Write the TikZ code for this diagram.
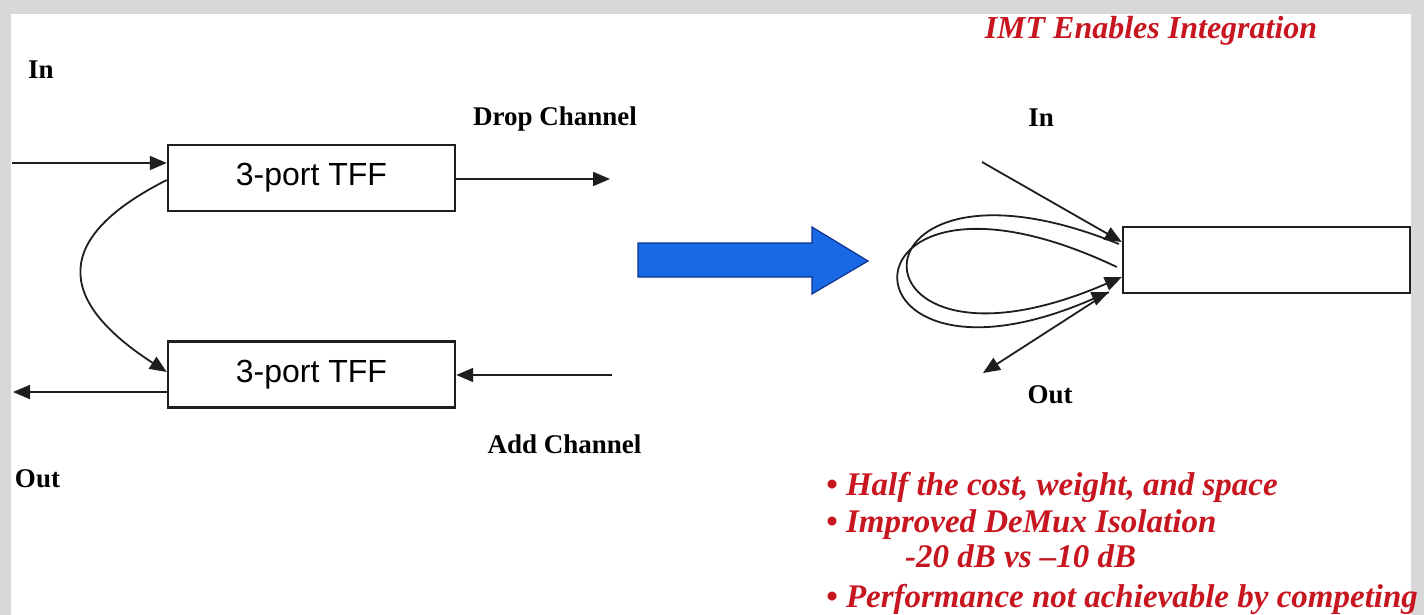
\documentclass[tikz,border=0pt]{standalone}
\usepackage{fontspec}
\setmainfont{Liberation Serif}
\newfontfamily\arialfont{Liberation Sans}
\usetikzlibrary{arrows.meta}
\definecolor{imtred}{RGB}{200,22,32}
\definecolor{blueA}{RGB}{25,105,230}
\definecolor{blueD}{RGB}{15,50,140}
\definecolor{bgray}{RGB}{216,216,216}
\definecolor{lined}{RGB}{30,30,30}
\begin{document}
\begin{tikzpicture}[x=1pt,y=-1pt,
  lbl/.style={font=\fontsize{27}{30}\selectfont\bfseries, inner sep=0pt, anchor=base},
  redtxt/.style={text=imtred, font=\fontsize{33}{36}\selectfont\bfseries\itshape, inner sep=0pt, anchor=base west},
  tff/.style={draw=lined, line width=2.4pt, minimum width=287pt, minimum height=66pt, inner sep=0pt, font=\arialfont\fontsize{32}{36}\selectfont},
  conn/.style={draw=lined, line width=1.8pt, -{Triangle[length=17pt,width=14pt]}},
]
\useasboundingbox (0,0) rectangle (1424,615);
\fill[bgray] (0,0) rectangle (1424,615);
\fill[white] (11,14) rectangle (1411,615);

% left diagram
\node[tff] (tffA) at (311.5,178) {3-port TFF};
\node[tff] (tffB) at (311.5,374.5) {3-port TFF};
\coordinate (inL) at (12,163);
\coordinate (dropR) at (610,179);
\coordinate (addR) at (612,375);
\coordinate (outL) at (13,392);
\draw[conn] (inL) -- (inL -| tffA.west);
\draw[conn] (dropR -| tffA.east) -- (dropR);
\draw[conn] (addR) -- (addR -| tffB.east);
\draw[conn] (outL -| tffB.west) -- (outL);
\draw[conn] ([yshift=-2pt]tffA.west) .. controls (54,237) and (54,299) .. ([yshift=2.5pt]tffB.west);

\node[lbl] (linlbl) at (41,79) {In};
\node[lbl] (loutlbl) at (37.5,487) {Out};
\node[lbl] (droplbl) at (555,126) {Drop Channel};
\node[lbl] (addlbl) at (564.5,453) {Add Channel};

% big blue arrow
\filldraw[fill=blueA, draw=blueD, line width=1.2pt] (638,243) -- (812,243) -- (812,227) -- (868,261) -- (812,294) -- (812,277) -- (638,277) -- cycle;

% right diagram
\node[tff] (rect) at (1266.5,260) {};
\coordinate (rin) at (982,162);
\coordinate (rout) at (983,373);
\draw[conn] (rin) -- ([yshift=18pt]rect.west);
\draw[conn] ([xshift=-3pt,yshift=16pt]rect.west) .. controls (838,130) and (838,400) .. ([yshift=-17pt]rect.west);
\draw[conn] ([xshift=-5pt,yshift=-7pt]rect.west) .. controls (828,130) and (828,415) .. ([xshift=-13pt,yshift=-32pt]rect.west);
\draw[conn] ([xshift=-13pt,yshift=-32pt]rect.west) -- (rout);
\node[lbl] (rinlbl) at (1041,127) {In};
\node[lbl] (routlbl) at (1050,403) {Out};

% red texts
\node[redtxt, font=\fontsize{32}{36}\selectfont\bfseries\itshape, anchor=base] (title) at (1151,39) {IMT Enables Integration};
\node[redtxt] (b1) at (826,495) {• Half the cost, weight, and space};
\node[redtxt] (b2) at (826,532) {• Improved DeMux Isolation};
\node[redtxt] (b3) at (905,567) {-20 dB vs –10 dB};
\node[redtxt] (b4) at (826,607) {• Performance not achievable by competing};
\end{tikzpicture}
\end{document}
